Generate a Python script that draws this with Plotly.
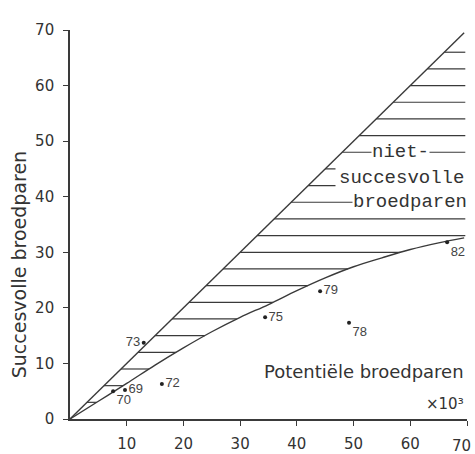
import numpy as np
import plotly.graph_objects as go

# data (thousands of breeding pairs)
years = ["73", "69", "70", "72", "75", "79", "78", "82"]
potential = [13.0, 9.7, 7.6, 16.2, 34.4, 44.1, 49.2, 66.5]
successful = [13.7, 5.2, 5.0, 6.3, 18.3, 23.0, 17.3, 31.8]
label_pos = ["middle left", "middle right", "bottom right", "middle right",
             "middle right", "middle right", "bottom right", "bottom right"]

# upper limit line (all potential pairs successful)
upper_x = [0, 69.5]
upper_y = [0, 69.5]

# fitted lower curve
curve_x = [0, 5, 10, 15, 20, 25, 30, 35, 40, 45, 50, 55, 60, 65, 69.5]
curve_y = [0, 3.2, 6.4, 9.7, 12.8, 15.7, 18.3, 20.6, 23.1, 25.4, 27.4, 29.0, 30.5, 31.7, 32.6]

# hatch levels
hatch_levels = list(range(3, 67, 3))

x_ticks = [10, 20, 30, 40, 50, 60, 70]
y_ticks = [0, 10, 20, 30, 40, 50, 60, 70]

INK = "#3a3a3a"
FONT = "DejaVu Sans"

hx, hy = [], []
for lv in hatch_levels:
    x0 = lv
    if lv < max(curve_y):
        x1 = float(np.interp(lv, curve_y, curve_x))
    else:
        x1 = 69.7
    hx += [x0, x1, None]
    hy += [lv, lv, None]

fig = go.Figure()
fig.add_trace(go.Scatter(x=hx, y=hy, mode="lines",
                         line=dict(color=INK, width=1.2), hoverinfo="skip"))
fig.add_trace(go.Scatter(x=upper_x, y=upper_y, mode="lines",
                         line=dict(color=INK, width=1.4), hoverinfo="skip"))
fig.add_trace(go.Scatter(x=curve_x, y=curve_y, mode="lines",
                         line=dict(color=INK, width=1.4, shape="spline"), hoverinfo="skip"))
fig.add_trace(go.Scatter(x=potential, y=successful, mode="markers+text",
                         marker=dict(color="#222", size=4),
                         text=years, textposition=label_pos,
                         textfont=dict(family="Liberation Sans Narrow, Liberation Sans", size=13, color="#444"),
                         hoverinfo="skip"))

# labels inside the hatched area (white boxes hide the hatch lines)
mono = dict(family="Liberation Mono", size=19, color="#333")
for txt, x, y, pad in [("niet-", 58.2, 48.0, 0), ("succesvolle", 58.4, 43.4, 3),
                       ("broedparen", 60.0, 39.0, 0)]:
    fig.add_annotation(x=x, y=y, xref="x", yref="y", text=txt, showarrow=False,
                       xanchor="center", yanchor="middle",
                       font=mono, bgcolor="white", borderpad=pad)

fig.add_annotation(x=69.8, y=8.6, xref="x", yref="y", text="Potentiële broedparen",
                   showarrow=False, xanchor="right", yanchor="middle",
                   font=dict(family=FONT, size=18, color="#333"))
fig.add_annotation(x=69.8, y=2.7, xref="x", yref="y", text="×10³",
                   showarrow=False, xanchor="right", yanchor="middle",
                   font=dict(family=FONT, size=15, color="#333"))
fig.add_annotation(x=1.3, y=71.8, xref="x", yref="y", text="×10³",
                   showarrow=False, xanchor="left", yanchor="middle",
                   font=dict(family=FONT, size=15, color="#333"))
fig.add_annotation(x=-0.128, y=27.7, xref="paper", yref="y", text="Succesvolle broedparen",
                   showarrow=False, textangle=-90, xanchor="center", yanchor="middle",
                   font=dict(family=FONT, size=19, color="#333"))

# last x tick label placed so it stays inside the picture
x_ticktext = [str(v) for v in x_ticks[:-1]] + [""]
fig.add_annotation(x=x_ticks[-1], y=0, xref="x", yref="y", text=str(x_ticks[-1]),
                   showarrow=False, xanchor="right", yanchor="top", xshift=6, yshift=-16,
                   font=dict(family=FONT, size=15, color="#333"))

axis_common = dict(showgrid=False, zeroline=False, showline=True, linecolor=INK, linewidth=1.6,
                   ticks="outside", ticklen=5, tickcolor=INK, tickwidth=1.3, automargin=False,
                   ticklabeloverflow="allow",
                   tickfont=dict(family=FONT, size=15, color="#333"), range=[0, 70])
fig.update_xaxes(**axis_common, tickvals=x_ticks, ticktext=x_ticktext, ticklabelstandoff=5)
fig.update_yaxes(**axis_common, tickvals=y_ticks, ticklabelstandoff=6)

fig.update_layout(width=475, height=454, showlegend=False,
                  margin=dict(l=70, r=8, t=30, b=35),
                  plot_bgcolor="white", paper_bgcolor="white")

fig.write_html("out.html", config={"displayModeBar": False},
               post_script="document.body.style.margin='0';document.body.style.overflow='hidden';")
